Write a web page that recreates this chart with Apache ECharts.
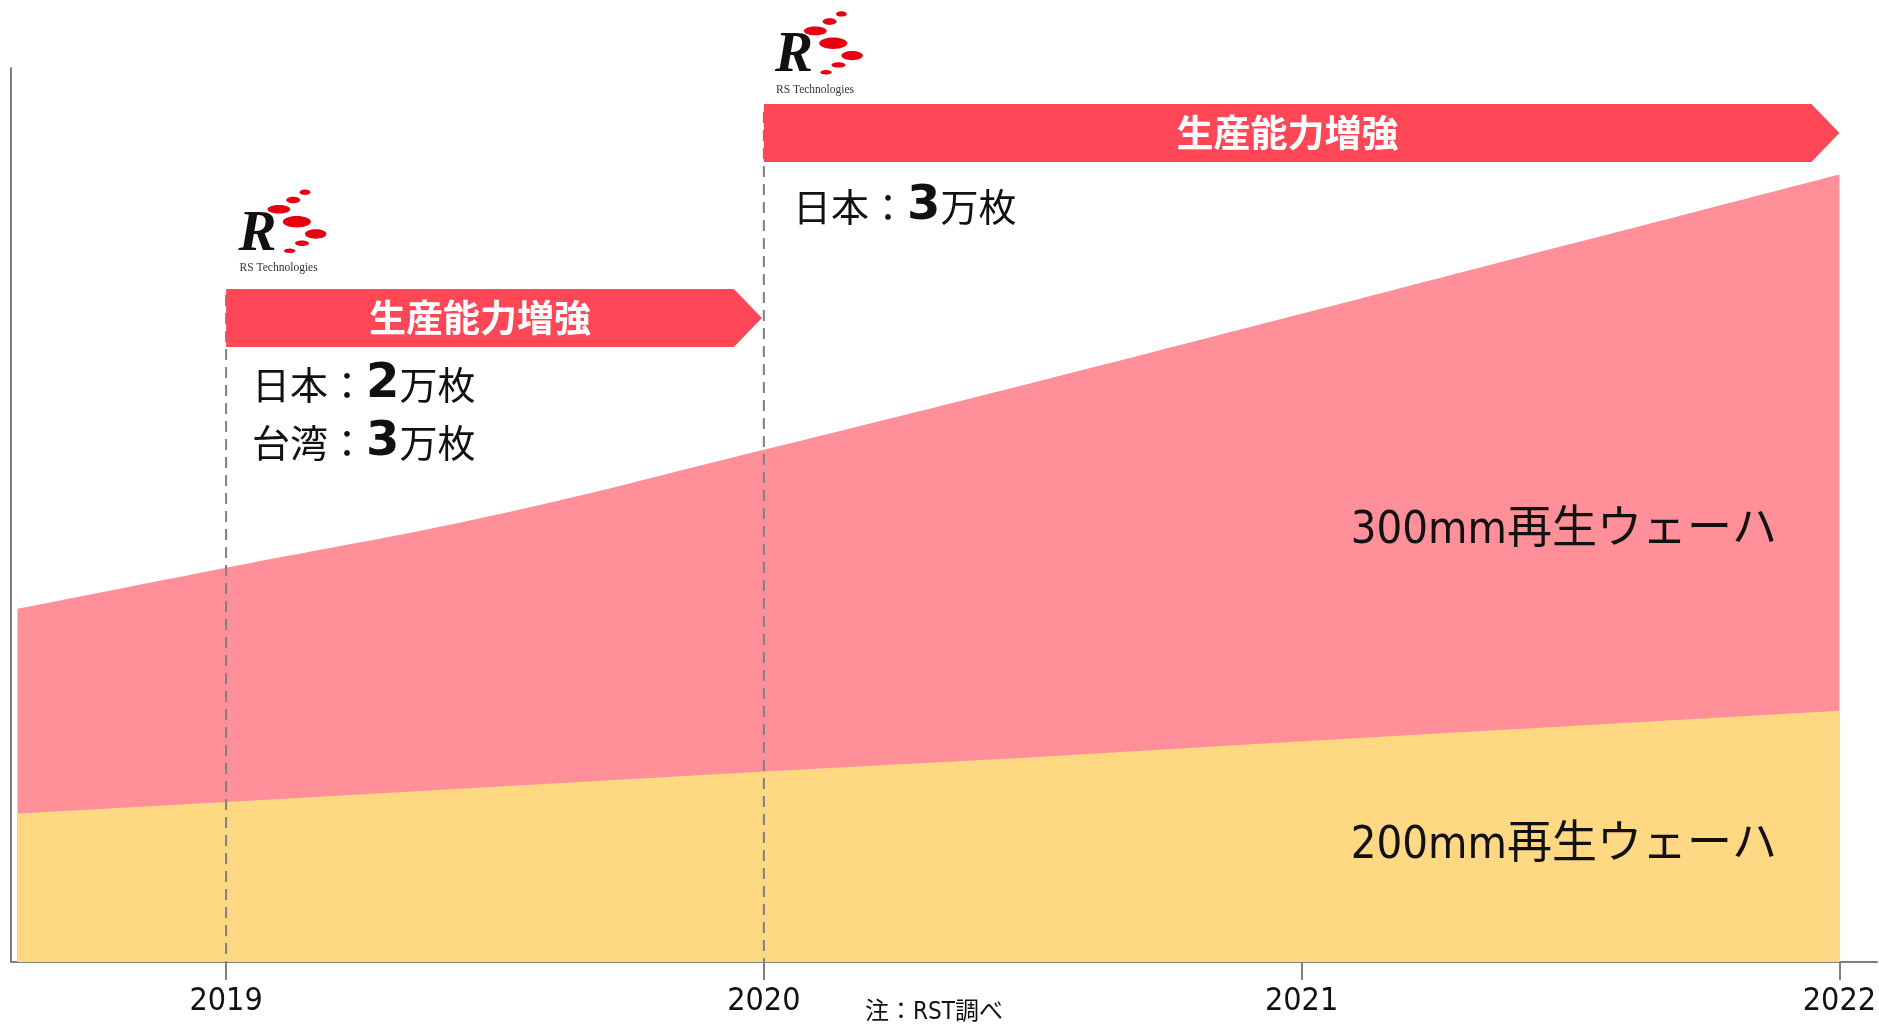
<!DOCTYPE html>
<html>
<head>
<meta charset="utf-8">
<style>
  html, body { margin: 0; padding: 0; background: #fff; }
  #chart { width: 1879px; height: 1024px; }
</style>
<script src="https://cdn.jsdelivr.net/npm/echarts@6/dist/echarts.min.js"></script>
</head>
<body>
<div id="chart"></div>
<script>
// x positions (years) and the two layers
const years = [2018.612, 2019, 2019.5, 2020, 2020.5, 2021, 2021.5, 2022];
const wafer200 = [16.6, 17.9, 19.6, 21.3, 22.9, 24.7, 26.4, 28.1];
const wafer300 = [22.9, 26.2, 30.4, 36.0, 41.9, 47.8, 53.9, 60.0];
const tickYears = [2019, 2020, 2021, 2022];

const seriesNames = ["200mm再生ウェーハ", "300mm再生ウェーハ"];
const boostLabel = "生産能力増強";
const note = "注：RST調べ";

const AXIS_GRAY = "#808080";
const PINK = "#FF8F99";
const YELLOW = "#FED883";
const ARROW_RED = "#FF4757";
const LOGO_RED = "#E60012";
const LATIN = "'DejaVu Sans Condensed', 'DejaVu Sans', 'Noto Sans CJK JP'";
const CJK = "'Noto Sans CJK JP', sans-serif";

// 300mm sits on top of 200mm, so its area is drawn up to the running total
const totals = wafer200.map((v, i) => v + wafer300[i]);

const chart = echarts.init(document.getElementById("chart"), null, { renderer: "canvas" });

chart.setOption({
  animation: false,
  backgroundColor: "#fff",
  grid: { left: 11, right: 0, top: 68, bottom: 62 },
  xAxis: {
    type: "value",
    min: 2018.6,
    max: 2022.07,
    splitLine: { show: false },
    axisLine: { lineStyle: { color: AXIS_GRAY, width: 2 } },
    axisTick: {
      customValues: tickYears,
      length: 18,
      lineStyle: { color: AXIS_GRAY, width: 2 },
    },
    axisLabel: {
      customValues: tickYears,
      formatter: (v) => String(Math.round(v)),
      margin: 24,
      color: "#111",
      fontSize: 32,
      fontFamily: LATIN,
    },
  },
  yAxis: {
    type: "value",
    min: 0,
    max: 100,
    splitLine: { show: false },
    axisLabel: { show: false },
    axisTick: { show: false },
    axisLine: { show: true, lineStyle: { color: AXIS_GRAY, width: 2 } },
  },
  series: [
    {
      name: seriesNames[1],
      type: "line",
      symbol: "none",
      smooth: 0.4,
      lineStyle: { width: 0 },
      areaStyle: { color: PINK, opacity: 1 },
      data: years.map((x, i) => [x, totals[i]]),
      silent: true,
      z: 2,
    },
    {
      name: seriesNames[0],
      type: "line",
      symbol: "none",
      lineStyle: { width: 0 },
      areaStyle: { color: YELLOW, opacity: 1 },
      data: years.map((x, i) => [x, wafer200[i]]),
      silent: true,
      z: 3,
    },
  ],
});

const px = (v) => chart.convertToPixel({ xAxisIndex: 0 }, v);
const axisY = chart.convertToPixel({ yAxisIndex: 0 }, 0);

function dashLine(year, top) {
  const x = px(year);
  return {
    type: "line",
    z: 50,
    shape: { x1: x, y1: top, x2: x, y2: axisY },
    style: { stroke: AXIS_GRAY, lineWidth: 2, lineDash: [11, 7] },
  };
}

function arrow(fromYear, toYear, top, bottom, tipOffset) {
  const l = px(fromYear);
  const tip = px(toYear) - tipOffset;
  const base = tip - 28;
  const mid = (top + bottom) / 2;
  return [
    {
      type: "polygon",
      z: 60,
      shape: { points: [[l, top], [base, top], [tip, mid], [base, bottom], [l, bottom]] },
      style: { fill: ARROW_RED },
    },
    {
      type: "text",
      z: 61,
      x: (l + base) / 2,
      y: mid,
      style: {
        text: boostLabel,
        fill: "#fff",
        font: "bold 37px " + CJK,
        align: "center",
        verticalAlign: "middle",
        textAlign: "center",
        textVerticalAlign: "middle",
      },
    },
  ];
}

function capacity(x, y, label, num) {
  return {
    type: "text",
    z: 70,
    x: x,
    y: y,
    style: {
      text: "{a|" + label + "：}{b|" + num + "}{a|万枚}",
      align: "left",
      verticalAlign: "middle",
      textAlign: "left",
      textVerticalAlign: "middle",
      rich: {
        a: { fontSize: 38, fontFamily: CJK, fill: "#111" },
        b: { fontSize: 48, fontFamily: "'DejaVu Sans', 'Liberation Sans'", fontWeight: "bold", fill: "#111" },
      },
    },
  };
}

// RS Technologies mark, (ox, oy) = left edge / vertical centre of the "R"
const dots = [
  [65.4, -42.7, 5.4, 2.7],
  [53.6, -35, 7, 3.3],
  [39.3, -25.7, 11.4, 4.3],
  [57.2, -13.3, 14, 5.7],
  [76.1, -1, 10.7, 4.7],
  [62.4, 8.3, 7, 2.7],
  [50, 15.7, 5.7, 2.3],
];
function logo(ox, oy) {
  const children = [
    {
      type: "text",
      x: -1,
      y: 0,
      style: {
        text: "R",
        fill: "#111",
        font: "italic bold 57px 'Liberation Serif', 'DejaVu Serif', serif",
        align: "left",
        verticalAlign: "middle",
        textAlign: "left",
        textVerticalAlign: "middle",
      },
    },
    {
      type: "text",
      x: 0,
      y: 33.3,
      style: {
        text: "RS Technologies",
        fill: "#333",
        font: "11.5px 'Liberation Serif', 'DejaVu Serif', serif",
        align: "left",
        verticalAlign: "middle",
        textAlign: "left",
        textVerticalAlign: "middle",
      },
    },
  ];
  dots.forEach(([cx, cy, rx, ry]) => {
    children.push({
      type: "ellipse",
      shape: { cx: cx, cy: cy, rx: rx, ry: ry },
      style: { fill: LOGO_RED },
    });
  });
  return { type: "group", x: ox, y: oy, z: 70, children: children };
}

function plainText(x, y, text, size, align) {
  return {
    type: "text",
    z: 70,
    x: x,
    y: y,
    style: {
      text: text,
      fill: "#111",
      font: size + "px " + LATIN,
      align: align,
      verticalAlign: "middle",
      textAlign: align,
      textVerticalAlign: "middle",
    },
  };
}

chart.setOption({
  graphic: [
    dashLine(2019, 295),
    dashLine(2020, 112),
    ...arrow(2019, 2020, 289, 347, 2),
    ...arrow(2020, 2022, 104, 162, 0),
    capacity(252, 385, "日本", "2"),
    capacity(252, 443, "台湾", "3"),
    capacity(793, 207, "日本", "3"),
    logo(239.6, 235),
    logo(776, 56.6),
    plainText(1777, 531, seriesNames[1], 45, "right"),
    plainText(1777, 846, seriesNames[0], 45, "right"),
    plainText(865, 1013, note, 24, "left"),
  ],
});
</script>
</body>
</html>
